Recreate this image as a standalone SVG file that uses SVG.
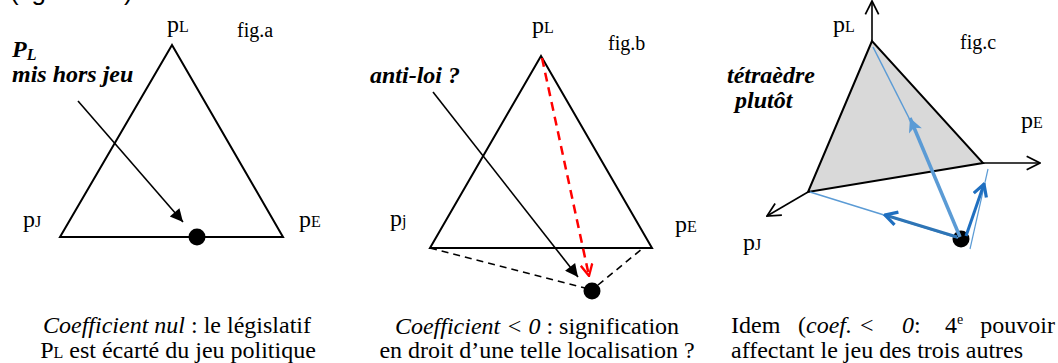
<svg xmlns="http://www.w3.org/2000/svg" width="1058" height="363" viewBox="0 0 1058 363">
<style>
text{font-family:"Liberation Serif","Times New Roman",serif;font-size:24px;fill:#000}
.bi{font-weight:bold;font-style:italic}
.it{font-style:italic}
.sm{font-size:16px}
.fig{font-size:20px}
.tri{fill:none;stroke:#000;stroke-width:2}
.ln{stroke:#000;stroke-width:1.6;fill:none}
.dash{stroke:#000;stroke-width:1.6;stroke-dasharray:7 5;fill:none}
</style>
<defs>
<marker id="fa" viewBox="0 0 10 10" refX="10" refY="5" markerWidth="10" markerHeight="8" markerUnits="strokeWidth" orient="auto"><path d="M0,0 L10,5 L0,10 z" fill="#000"/></marker>
<marker id="va" viewBox="0 0 12 12" refX="11" refY="6" markerWidth="16" markerHeight="16" markerUnits="userSpaceOnUse" orient="auto"><path d="M1,1 L11,6 L1,11" fill="none" stroke="#000" stroke-width="1.3"/></marker>
<marker id="vr" viewBox="0 0 12 12" refX="11" refY="6" markerWidth="14" markerHeight="14" markerUnits="userSpaceOnUse" orient="auto"><path d="M1,1 L11,6 L1,11" fill="none" stroke="#FF0000" stroke-width="2"/></marker>
<marker id="bl" viewBox="0 0 10 10" refX="10" refY="5" markerWidth="17" markerHeight="14" markerUnits="userSpaceOnUse" orient="auto"><path d="M0,0 L10,5 L0,10 L2.5,5 z" fill="#5B9BD5"/></marker>
<marker id="bv" viewBox="0 0 12 12" refX="11" refY="6" markerWidth="16" markerHeight="16" markerUnits="userSpaceOnUse" orient="auto"><path d="M2,1 L11,6 L2,11" fill="none" stroke="#1F6FC0" stroke-width="2.4"/></marker>
</defs>

<text x="-6" y="0" style="font-family:'Liberation Sans',Arial,sans-serif;font-size:26px">r (fig.b ou c) :</text>

<g id="figa">
<polygon class="tri" points="172,45 60,237 283,237"/>
<circle cx="197" cy="237" r="8.5" fill="#000"/>
<text x="167" y="32">p<tspan class="sm">L</tspan></text>
<text class="fig" x="237" y="37">fig.a</text>
<text class="bi" x="12" y="57">P<tspan class="sm" dy="3">L</tspan></text>
<text class="bi" x="12" y="82">mis hors jeu</text>
<text x="23" y="227">p<tspan class="sm">J</tspan></text>
<text x="299" y="227">p<tspan class="sm">E</tspan></text>
<text x="177" y="333" text-anchor="middle"><tspan class="it">Coefficient nul</tspan> : le législatif</text>
<text x="178" y="358" text-anchor="middle">P<tspan class="sm">L</tspan> est écarté du jeu politique</text>
</g>

<g id="figb">
<polygon class="tri" points="541,56 430,248 652,248"/>
<circle cx="592" cy="291" r="8.5" fill="#000"/>
<text x="532" y="33">p<tspan class="sm">L</tspan></text>
<text class="fig" x="608" y="50">fig.b</text>
<text class="bi" x="370" y="83">anti-loi ?</text>
<text x="390" y="226">p<tspan class="sm">j</tspan></text>
<text x="675" y="232">p<tspan class="sm">E</tspan></text>
<text x="537" y="334" text-anchor="middle"><tspan class="it">Coefficient &lt; 0</tspan> : signification</text>
<text x="537" y="358" text-anchor="middle">en droit d’une telle localisation ?</text>
</g>

<g id="figc">
<polygon points="872,41 808,192 983,163" fill="#D9D9D9" stroke="#000" stroke-width="2"/>
<circle cx="961" cy="239" r="8.5" fill="#000"/>
<text x="833" y="32">p<tspan class="sm">L</tspan></text>
<text class="fig" x="960" y="49">fig.c</text>
<text class="bi" x="727" y="83">tétraèdre</text>
<text class="bi" x="735" y="108">plutôt</text>
<text x="1021" y="128">p<tspan class="sm">E</tspan></text>
<text x="743" y="250">p<tspan class="sm">J</tspan></text>
<text x="731" y="333">Idem</text>
<text x="798" y="333">(<tspan class="it">coef.</tspan></text>
<text x="860" y="333">&lt;</text>
<text x="902" y="333"><tspan class="it">0</tspan>:</text>
<text x="945" y="333">4<tspan font-size="14" dy="-9">e</tspan></text>
<text x="1055" y="333" text-anchor="end">pouvoir</text>
<text x="731" y="358">affectant le jeu des trois autres</text>
</g>

<g id="connectors">
<line class="ln" x1="78" y1="101" x2="183" y2="222" marker-end="url(#fa)"/>
<line class="ln" x1="433" y1="92" x2="578" y2="277" marker-end="url(#fa)"/>
<line x1="542" y1="58" x2="589" y2="276" stroke="#FF0000" stroke-width="2.5" stroke-dasharray="9 6" marker-end="url(#vr)"/>
<line class="dash" x1="430" y1="248" x2="585" y2="288"/>
<line class="dash" x1="598" y1="285" x2="643" y2="248"/>
<line class="ln" x1="872" y1="41" x2="872" y2="1" marker-end="url(#va)"/>
<line class="ln" x1="983" y1="163" x2="1040" y2="163" marker-end="url(#va)"/>
<line class="ln" x1="808" y1="192" x2="767" y2="216" marker-end="url(#va)"/>
<line x1="873" y1="47" x2="910" y2="120" stroke="#5B9BD5" stroke-width="1.5"/>
<line x1="960" y1="237" x2="910" y2="118" stroke="#5B9BD5" stroke-width="3.5" marker-end="url(#bl)"/>
<line x1="810" y1="192" x2="958" y2="238" stroke="#5B9BD5" stroke-width="1.5"/>
<line x1="957" y1="237" x2="885" y2="215" stroke="#2E75B6" stroke-width="3" marker-end="url(#bv)"/>
<line x1="970" y1="249" x2="988" y2="169" stroke="#5B9BD5" stroke-width="1.2"/>
<line x1="966" y1="236" x2="984" y2="184" stroke="#1F6FC0" stroke-width="3" marker-end="url(#bv)"/>
</g>
</svg>
